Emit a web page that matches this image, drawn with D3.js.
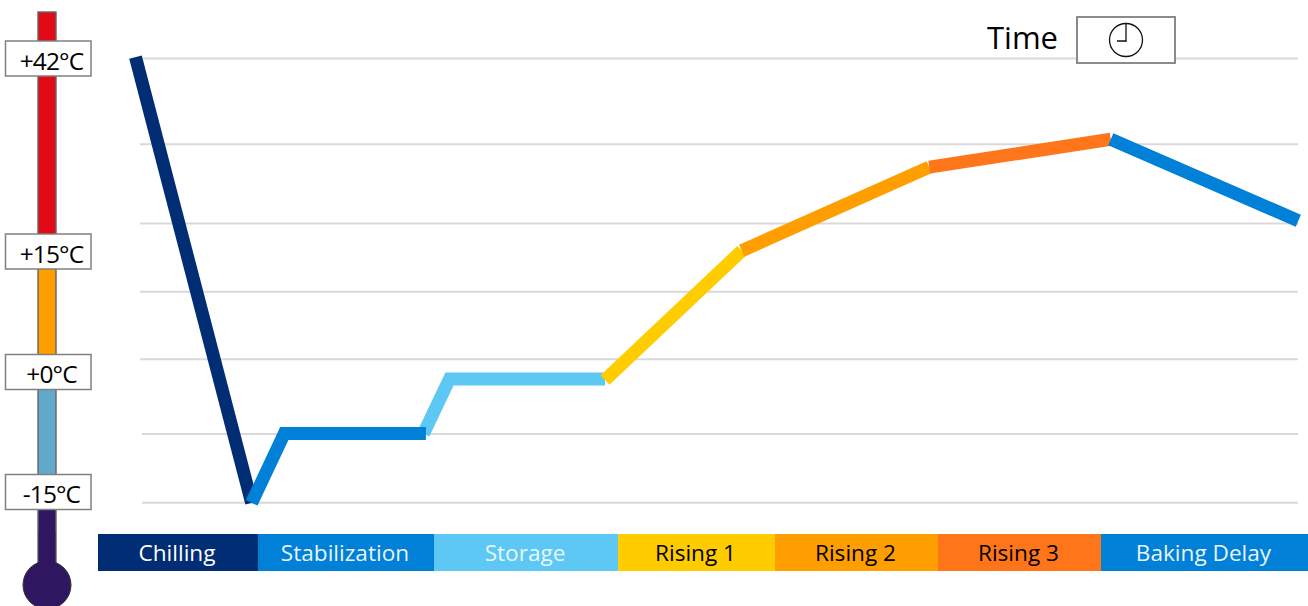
<!DOCTYPE html>
<html><head><meta charset="utf-8">
<script src="https://cdn.jsdelivr.net/npm/d3@7"></script>
<style>html,body{margin:0;padding:0;background:#fff}svg{display:block}text{font-family:"Open Sans",sans-serif}</style>
</head><body><svg id="c" width="1308" height="606"></svg>
<script>
// Phases along the time axis (percent of the cycle)
const phaseNames = ["Chilling","Stabilization","Storage","Rising 1","Rising 2","Rising 3","Baking Delay"];
const phaseEdges = [0,13.22,27.77,42.98,55.95,69.42,82.89,100];
const phaseColors = ["#002D73","#0080D6","#5DC8F3","#FFCC00","#FF9E00","#FF7519","#0080D6"];
const phaseText = ["#fff","#e8f4fc","#e8f7fd","#000","#000","#000","#e8f4fc"];
// Temperature curve, one list per phase [time %, °C]
const chilling = [[3.1,42.2],[12.7,-16.4]];
const stabilization = [[12.7,-16.4],[15.4,-7.7],[27.1,-7.7]];
const storage = [[26.9,-7.7],[29.05,-0.87],[41.9,-0.87]];
const rising1 = [[41.9,-1.0],[53.2,15.1]];
const rising2 = [[53.2,15.1],[68.7,26.8]];
const rising3 = [[68.7,26.8],[83.7,30.7]];
const bakingDelay = [[83.7,30.7],[99.2,19.3]];
const drawOrder = [[chilling,0],[storage,2],[stabilization,1],[rising1,3],[rising2,4],[rising3,5],[bakingDelay,6]];
// Temperature scale
const tempStops = [-27,-15,0,15,42,48.6];
const gridTemps = [42,30,18.9,10,1.6,-7.75,-16.4];
const gridStart = [143,140,140,140,140,142,142];
const thermoBands = [[48.6,15,"#E30A17"],[15,0,"#FF9E00"],[0,-15,"#5FAACB"],[-15,-24.4,"#2E1760"]];
const thermoLabels = [[42,"+42°C"],[15,"+15°C"],[0,"+0°C"],[-15,"-15°C"]];

const svg = d3.select("#c");
const x = d3.scaleLinear().domain([0,100]).range([98,1308]);
const y = d3.scaleLinear().domain(tempStops).range([585,492,372,251.5,58.5,12]);

// grid
svg.append("g").selectAll("line").data(gridTemps).join("line")
  .attr("x1",(d,i)=>gridStart[i]).attr("x2",1298)
  .attr("y1",d=>y(d)).attr("y2",d=>y(d))
  .attr("stroke","#d9d9d9").attr("stroke-width",2);

// curve
const line = d3.line().x(d=>x(d[0])).y(d=>y(d[1]));
svg.append("g").selectAll("path").data(drawOrder).join("path")
  .attr("d",d=>line(d[0])).attr("fill","none")
  .attr("stroke",d=>phaseColors[d[1]]).attr("stroke-width",13)
  .attr("stroke-linejoin","miter").attr("stroke-linecap","butt");

// phase bar
const bar = svg.append("g");
bar.selectAll("rect").data(phaseNames).join("rect")
  .attr("x",(d,i)=>x(phaseEdges[i])).attr("width",(d,i)=>x(phaseEdges[i+1])-x(phaseEdges[i]))
  .attr("y",534).attr("height",37).attr("fill",(d,i)=>phaseColors[i]);
bar.selectAll("text").data(phaseNames).join("text")
  .attr("x",(d,i)=>(x(phaseEdges[i])+x(phaseEdges[i+1]))/2-1).attr("y",561)
  .attr("text-anchor","middle").attr("font-size",22.6)
  .attr("fill",(d,i)=>phaseText[i]).text(d=>d);

// thermometer
const th = svg.append("g");
th.selectAll("rect.band").data(thermoBands).join("rect").attr("class","band")
  .attr("x",38).attr("width",18).attr("y",d=>y(d[0])).attr("height",d=>y(d[1])-y(d[0]))
  .attr("fill",d=>d[2]).attr("stroke","#666").attr("stroke-width",1.4);
th.append("circle").attr("cx",47).attr("cy",y(-27)).attr("r",24).attr("fill","#2E1760").attr("stroke","#333").attr("stroke-width",1);
th.append("rect").attr("x",38.7).attr("width",16.6).attr("y",y(-20)).attr("height",y(-26)-y(-20)).attr("fill","#2E1760");
const lab = th.selectAll("g.lab").data(thermoLabels).join("g").attr("class","lab");
lab.append("rect").attr("x",5.5).attr("width",85.5).attr("y",d=>y(d[0])-17.5).attr("height",35)
  .attr("fill","#fff").attr("stroke","#808080").attr("stroke-width",1.5);
lab.append("text").attr("x",51.5).attr("y",d=>y(d[0])+11).attr("text-anchor","middle")
  .attr("font-size",24.5).attr("letter-spacing",-0.9).attr("fill","#000").text(d=>d[1]);

// time key
svg.append("text").attr("x",987).attr("y",49).attr("font-size",31).attr("fill","#000").text("Time");
svg.append("rect").attr("x",1077).attr("y",17).attr("width",98).attr("height",46).attr("fill","#fff").attr("stroke","#7f7f7f").attr("stroke-width",1.8);
svg.append("circle").attr("cx",1126).attr("cy",40).attr("r",16.5).attr("fill","none").attr("stroke","#111").attr("stroke-width",1.3);
svg.append("path").attr("d",d3.line()([[1126,24],[1126,42],[1126,41],[1117,41]])).attr("fill","none").attr("stroke","#111").attr("stroke-width",1.3);
</script></body></html>
